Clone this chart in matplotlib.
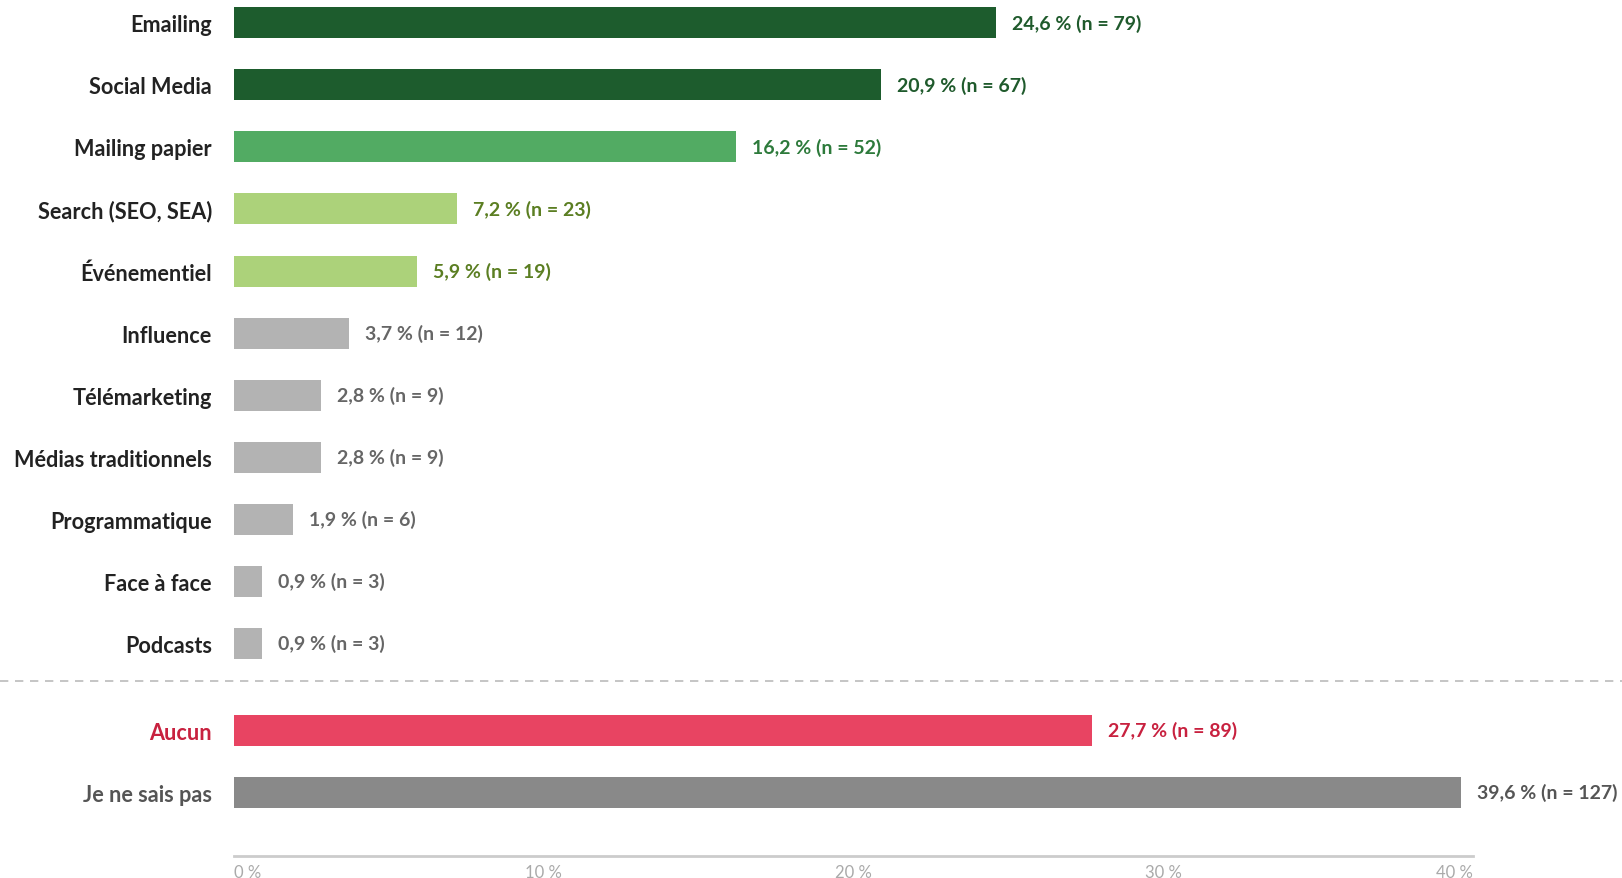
import matplotlib.pyplot as plt
from matplotlib.transforms import blended_transform_factory
from matplotlib.lines import Line2D

categories = ['Emailing', 'Social Media', 'Mailing papier', 'Search (SEO, SEA)',
              'Événementiel', 'Influence', 'Télémarketing', 'Médias traditionnels',
              'Programmatique', 'Face à face', 'Podcasts', 'Aucun', 'Je ne sais pas']
percents = [24.6, 20.9, 16.2, 7.2, 5.9, 3.7, 2.8, 2.8, 1.9, 0.9, 0.9, 27.7, 39.6]
counts = [79, 67, 52, 23, 19, 12, 9, 9, 6, 3, 3, 89, 127]
ticks = [0, 10, 20, 30, 40]

bar_colors = ['#1d5c2d', '#1d5c2d', '#52ab63', '#acd27a', '#acd27a'] + ['#b3b3b3'] * 6 + ['#e84462', '#898989']
value_colors = ['#1f5a2c', '#1f5a2c', '#2d7a3b', '#5b7e22', '#5b7e22'] + ['#666666'] * 6 + ['#c8213f', '#555555']
label_colors = ['#222222'] * 11 + ['#c8213f', '#555555']

# positions: 11 main rows, then a gap before the two "other" rows
ypos = list(range(11)) + [11.4, 12.4]

plt.rcParams['font.family'] = ['Lato', 'DejaVu Sans']

fig = plt.figure(figsize=(16.22, 8.79), dpi=100)
ax = fig.add_axes([234 / 1622, 1 - 856.5 / 879, (1473 - 234) / 1622, 856.5 / 879])

ax.barh(ypos, percents, height=0.5, color=bar_colors)
ax.set_xlim(0, 40)
ax.set_ylim(13.42, -0.384)

for y, p, n, c in zip(ypos, percents, counts, value_colors):
    txt = f'{p:.1f}'.replace('.', ',') + f' % (n = {n})'
    ax.annotate(txt, (p, y), xytext=(11.5, 0), textcoords='offset points',
                va='center', ha='left', fontsize=14, fontweight='bold', color=c)

ax.set_yticks(ypos)
ax.set_yticklabels(categories, fontsize=15.6, fontweight='bold')
for lab, c in zip(ax.get_yticklabels(), label_colors):
    lab.set_color(c)
ax.tick_params(axis='y', length=0, pad=16)

ax.set_xticks(ticks)
ax.set_xticklabels([f'{t} %' for t in ticks], fontsize=12, color='#aaaaaa')
xl = ax.get_xticklabels()
xl[0].set_ha('left')
xl[-1].set_ha('right')
ax.tick_params(axis='x', length=0, pad=6)

for s in ['top', 'right', 'left']:
    ax.spines[s].set_visible(False)
ax.spines['bottom'].set_color('#cccccc')
ax.spines['bottom'].set_linewidth(2)

# dashed separator across the full width
tr = blended_transform_factory(fig.transFigure, ax.transData)
fig.add_artist(Line2D([0, 1], [10.6, 10.6], transform=tr, color='#bbbbbb',
                      linestyle=(0, (5, 4)), linewidth=1.2))

fig.savefig('out.png', dpi=100)
